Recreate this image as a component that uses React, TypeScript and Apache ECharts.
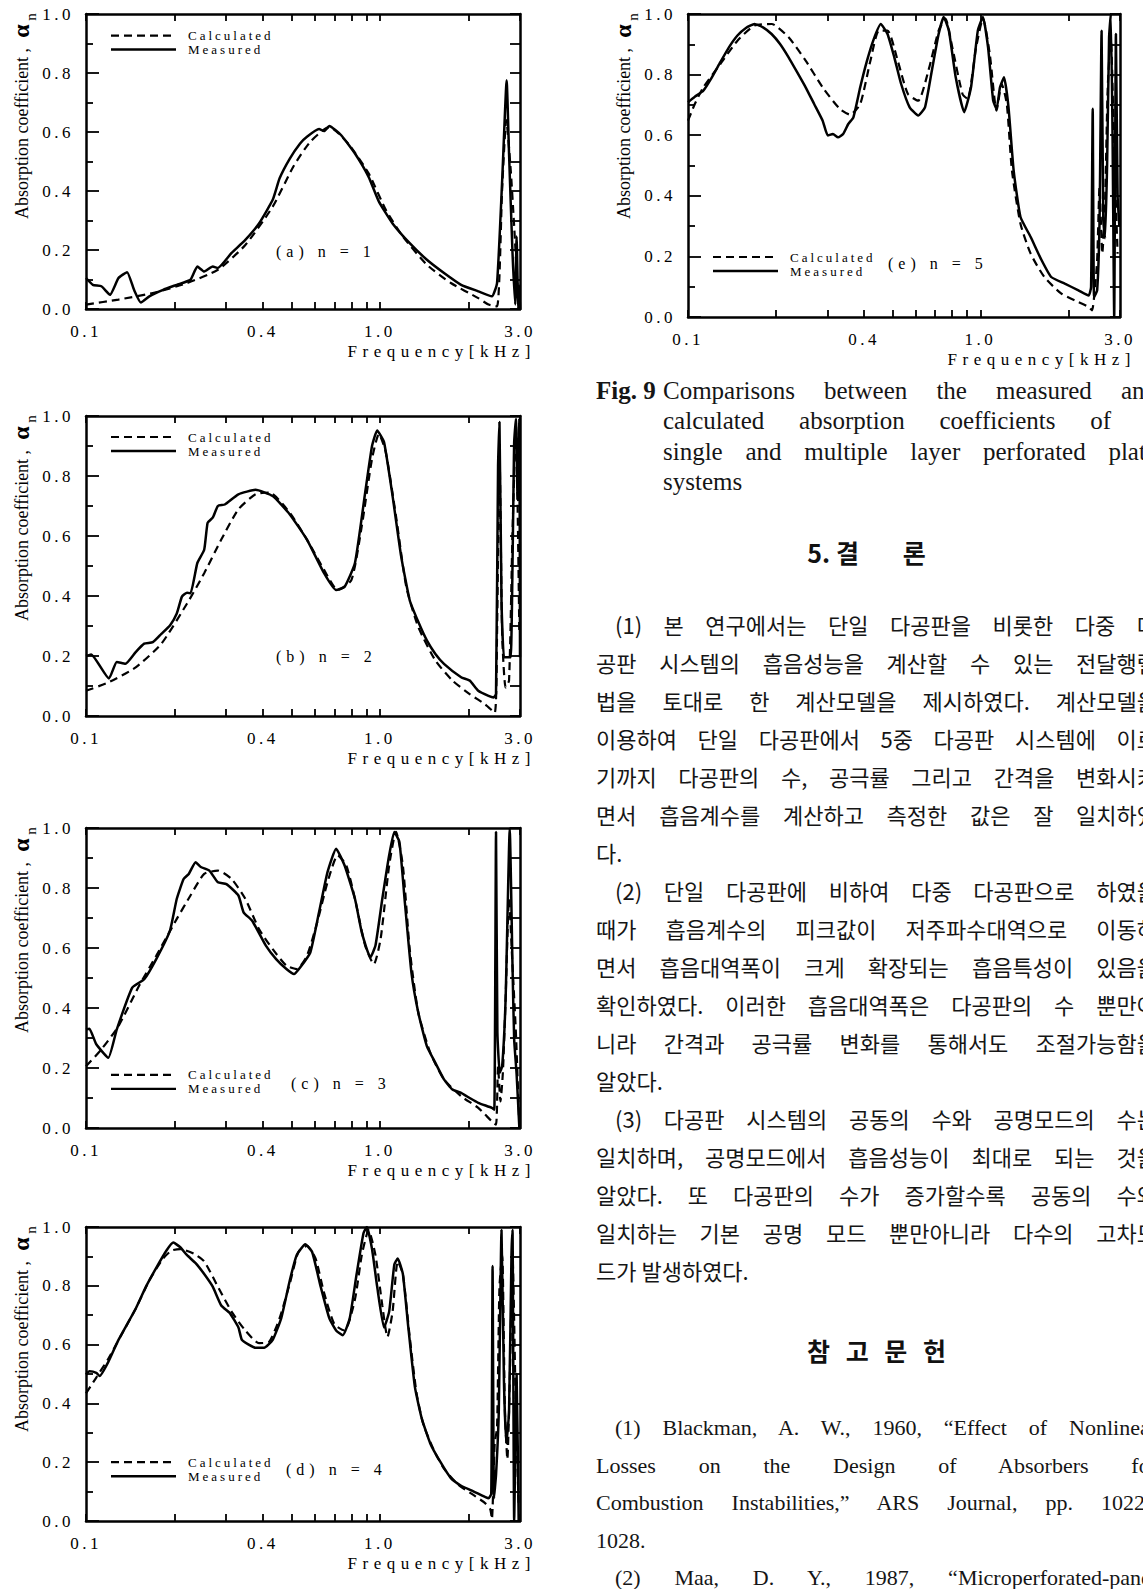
import React, { useEffect, useRef } from "react";
import * as echarts from "echarts";

// ---------------- data ----------------
const X_TICK_VALUES = [0.1, 0.2, 0.3, 0.4, 0.5, 0.6, 0.7, 0.8, 0.9, 1, 2, 3];
const X_LABEL_VALUES = [0.1, 0.4, 1, 3];
const SERIES_NAMES = ["Calculated", "Measured"];
const PANEL_TAGS = ["(a) n = 1", "(b) n = 2", "(c) n = 3", "(d) n = 4", "(e) n = 5"];
const X_AXIS_NAME = "Frequency[kHz]";
const Y_AXIS_NAME = "Absorption coefficient ,";

const calculatedA = [[0.1,0.015],[0.129,0.032],[0.1688,0.054],[0.2208,0.088],[0.2811,0.133],[0.3485,0.217],[0.432,0.347],[0.5075,0.482],[0.58,0.567],[0.673,0.617],[0.78,0.561],[0.916,0.46],[1.048,0.336],[1.198,0.246],[1.446,0.15],[1.745,0.088],[2.163,0.037],[2.344,0.015],[2.506,0.009],[2.609,0.41],[2.695,0.64],[2.79,0.47],[2.866,0.28],[2.944,0.077],[3.0,0]];
const measuredA = [[0.1,0.105],[0.1055,0.082],[0.1128,0.077],[0.1207,0.048],[0.129,0.105],[0.138,0.125],[0.1457,0.065],[0.1537,0.022],[0.1643,0.043],[0.183,0.065],[0.2037,0.082],[0.2268,0.099],[0.2393,0.144],[0.2525,0.127],[0.27,0.144],[0.2811,0.139],[0.313,0.19],[0.3485,0.234],[0.388,0.29],[0.432,0.37],[0.456,0.443],[0.494,0.51],[0.5355,0.561],[0.565,0.584],[0.621,0.61],[0.646,0.603],[0.673,0.62],[0.739,0.589],[0.823,0.527],[0.916,0.448],[0.993,0.364],[1.105,0.29],[1.264,0.223],[1.446,0.167],[1.654,0.122],[1.891,0.082],[2.163,0.06],[2.407,0.043],[2.506,0.088],[2.609,0.437],[2.702,0.775],[2.753,0.527],[2.829,0.19],[2.89,0.015],[2.921,0.246],[2.96,0.0],[2.985,0.08],[3.0,0.0]];

const calculatedB = [[0.1,0.084],[0.1191,0.112],[0.1476,0.162],[0.1805,0.241],[0.2208,0.375],[0.2525,0.476],[0.2887,0.588],[0.3302,0.689],[0.3777,0.739],[0.4205,0.745],[0.494,0.677],[0.5649,0.588],[0.6461,0.487],[0.7194,0.42],[0.8009,0.454],[0.8681,0.633],[0.9408,0.857],[0.993,0.94],[1.048,0.879],[1.1352,0.666],[1.2305,0.431],[1.3517,0.297],[1.5459,0.185],[1.7681,0.118],[2.0222,0.073],[2.2817,0.039],[2.46,0.011],[2.506,0.274],[2.554,0.89],[2.609,0.27],[2.68,0.095],[2.753,0.118],[2.829,0.61],[2.905,0.97],[2.985,0.27]];
const measuredB = [[0.1,0.2],[0.1041,0.205],[0.1197,0.125],[0.1273,0.18],[0.1362,0.174],[0.1476,0.213],[0.1578,0.241],[0.1688,0.246],[0.1805,0.274],[0.1931,0.302],[0.2037,0.342],[0.2121,0.398],[0.2208,0.411],[0.2268,0.409],[0.2393,0.51],[0.2525,0.554],[0.2594,0.644],[0.27,0.661],[0.2811,0.7],[0.2967,0.705],[0.3302,0.739],[0.3777,0.754],[0.432,0.733],[0.494,0.672],[0.5649,0.588],[0.6461,0.476],[0.7099,0.42],[0.7589,0.431],[0.823,0.51],[0.8917,0.745],[0.9408,0.9],[0.9795,0.952],[1.0335,0.913],[1.1053,0.733],[1.182,0.532],[1.264,0.386],[1.3517,0.314],[1.4457,0.252],[1.5459,0.207],[1.6535,0.174],[1.891,0.129],[2.0222,0.118],[2.1627,0.084],[2.344,0.067],[2.44,0.062],[2.486,0.073],[2.526,0.834],[2.554,0.98],[2.595,0.386],[2.645,0.196],[2.717,0.196],[2.79,0.196],[2.866,0.913],[2.905,0.99],[2.944,0.72],[2.985,0.99],[3.0,0.196]];

const calculatedC = [[0.1,0.206],[0.1128,0.262],[0.129,0.34],[0.1516,0.474],[0.1734,0.574],[0.2037,0.697],[0.2268,0.775],[0.2525,0.847],[0.2811,0.858],[0.313,0.83],[0.3485,0.764],[0.388,0.663],[0.432,0.596],[0.481,0.541],[0.5212,0.53],[0.5649,0.574],[0.6124,0.686],[0.6637,0.819],[0.7194,0.909],[0.7692,0.875],[0.823,0.764],[0.8917,0.608],[0.9537,0.546],[1.0062,0.63],[1.076,0.875],[1.1352,0.987],[1.198,0.875],[1.264,0.596],[1.3517,0.385],[1.4849,0.251],[1.6535,0.162],[1.891,0.106],[2.1627,0.067],[2.407,0.022],[2.486,0.011],[2.526,0.206],[2.574,0.089],[2.623,0.184],[2.68,0.43],[2.753,0.764],[2.829,0.54],[2.905,0.318],[2.985,0]];
const measuredC = [[0.1,0.329],[0.1027,0.331],[0.1084,0.279],[0.1191,0.234],[0.1273,0.329],[0.1437,0.468],[0.1578,0.496],[0.1734,0.563],[0.1931,0.658],[0.2037,0.764],[0.2149,0.83],[0.2238,0.847],[0.2361,0.886],[0.2459,0.87],[0.2629,0.858],[0.2811,0.819],[0.3006,0.813],[0.3302,0.775],[0.3438,0.719],[0.3677,0.691],[0.4094,0.608],[0.4437,0.563],[0.481,0.53],[0.5103,0.513],[0.5355,0.535],[0.58,0.585],[0.621,0.719],[0.6637,0.853],[0.7099,0.931],[0.7589,0.875],[0.823,0.764],[0.8681,0.652],[0.9284,0.569],[0.9665,0.608],[1.0198,0.764],[1.076,0.909],[1.1202,0.987],[1.1663,0.953],[1.2139,0.764],[1.2811,0.518],[1.3517,0.385],[1.4457,0.273],[1.5459,0.217],[1.6535,0.162],[1.7681,0.128],[1.891,0.117],[2.0222,0.1],[2.1627,0.084],[2.407,0.067],[2.453,0.061],[2.486,0.987],[2.513,0.318],[2.56,0.184],[2.609,0.206],[2.68,0.43],[2.768,0.998],[2.829,0.54],[2.866,0.295],[2.921,0.18],[2.985,0]];

const calculatedD = [[0.1,0.434],[0.1084,0.488],[0.1191,0.552],[0.1326,0.637],[0.1476,0.722],[0.1643,0.819],[0.183,0.893],[0.1957,0.92],[0.2093,0.925],[0.2329,0.909],[0.2525,0.883],[0.2811,0.797],[0.313,0.712],[0.3485,0.648],[0.388,0.605],[0.4205,0.61],[0.456,0.69],[0.494,0.808],[0.5283,0.915],[0.5649,0.936],[0.6042,0.893],[0.6461,0.776],[0.7004,0.669],[0.7589,0.648],[0.823,0.754],[0.8681,0.904],[0.916,0.989],[0.9665,0.904],[1.0198,0.733],[1.0617,0.626],[1.1053,0.712],[1.1508,0.883],[1.198,0.84],[1.264,0.626],[1.334,0.434],[1.4075,0.328],[1.5254,0.242],[1.6535,0.178],[1.8408,0.125],[2.0495,0.093],[2.2817,0.061],[2.376,0.04],[2.407,0.007],[2.46,0.264],[2.506,0.317],[2.554,0.797],[2.609,0.904],[2.666,0.37],[2.717,0.21],[2.768,0.477],[2.829,0.904],[2.905,0.37],[2.969,0.05]];
const measuredD = [[0.1,0.498],[0.1027,0.509],[0.1084,0.504],[0.1113,0.493],[0.1191,0.541],[0.129,0.616],[0.1476,0.722],[0.16,0.797],[0.1734,0.861],[0.1879,0.92],[0.1983,0.947],[0.2093,0.931],[0.2208,0.904],[0.2361,0.877],[0.2525,0.84],[0.27,0.797],[0.2887,0.733],[0.3088,0.707],[0.3302,0.658],[0.3392,0.616],[0.3579,0.6],[0.3777,0.589],[0.4039,0.589],[0.432,0.616],[0.4619,0.69],[0.494,0.819],[0.5212,0.904],[0.5575,0.941],[0.5884,0.915],[0.6291,0.797],[0.673,0.69],[0.7099,0.648],[0.7487,0.632],[0.7902,0.69],[0.8338,0.84],[0.8798,0.979],[0.9036,1.0],[0.9408,0.925],[0.9795,0.797],[1.0335,0.658],[1.076,0.712],[1.1202,0.872],[1.1508,0.893],[1.198,0.84],[1.2471,0.669],[1.3163,0.456],[1.3889,0.349],[1.4849,0.264],[1.6095,0.2],[1.745,0.146],[1.891,0.12],[2.0495,0.104],[2.1627,0.093],[2.2817,0.082],[2.344,0.077],[2.395,0.093],[2.42,0.867],[2.446,0.077],[2.486,0.157],[2.54,0.37],[2.595,0.99],[2.645,0.477],[2.695,0.264],[2.753,0.37],[2.806,0.904],[2.829,0.99],[2.866,0.0],[2.921,0.5],[2.969,0.0]];

const calculatedE = [[0.1,0.648],[0.1055,0.703],[0.1128,0.758],[0.129,0.835],[0.1476,0.912],[0.1688,0.962],[0.1931,0.967],[0.2208,0.923],[0.2525,0.846],[0.2887,0.758],[0.3302,0.687],[0.3579,0.668],[0.388,0.703],[0.4205,0.846],[0.4497,0.945],[0.481,0.945],[0.5212,0.846],[0.5649,0.736],[0.6124,0.714],[0.6637,0.813],[0.7194,0.945],[0.7589,0.985],[0.8009,0.89],[0.8681,0.736],[0.9036,0.72],[0.9665,0.89],[1.0198,0.985],[1.076,0.868],[1.1352,0.681],[1.182,0.769],[1.2305,0.703],[1.2811,0.484],[1.3704,0.308],[1.4849,0.209],[1.6535,0.132],[1.891,0.077],[2.1627,0.049],[2.344,0.033],[2.407,0.022],[2.453,0.077],[2.506,0.187],[2.554,0.429],[2.609,0.209],[2.666,0.374],[2.724,0.758],[2.79,0.923],[2.866,0.538],[2.944,0.209]];
const measuredE = [[0.1,0.709],[0.1055,0.727],[0.1128,0.747],[0.1207,0.791],[0.129,0.841],[0.138,0.89],[0.1476,0.929],[0.1578,0.954],[0.1688,0.967],[0.1805,0.956],[0.1931,0.934],[0.2064,0.901],[0.2208,0.857],[0.2361,0.808],[0.2525,0.758],[0.27,0.703],[0.2887,0.648],[0.3006,0.599],[0.313,0.604],[0.3258,0.593],[0.3392,0.604],[0.3532,0.637],[0.3677,0.659],[0.388,0.758],[0.4094,0.846],[0.432,0.918],[0.456,0.967],[0.481,0.934],[0.5075,0.857],[0.5355,0.769],[0.5727,0.692],[0.6124,0.665],[0.6461,0.692],[0.6819,0.813],[0.7194,0.934],[0.7487,0.99],[0.78,0.945],[0.823,0.791],[0.8798,0.676],[0.9284,0.758],[0.9795,0.945],[1.0198,0.99],[1.0617,0.89],[1.1053,0.714],[1.1352,0.687],[1.1663,0.758],[1.2041,0.791],[1.2471,0.692],[1.2985,0.484],[1.3704,0.33],[1.4849,0.264],[1.6095,0.192],[1.745,0.132],[1.9425,0.11],[2.1627,0.088],[2.344,0.071],[2.389,0.099],[2.42,0.687],[2.446,0.066],[2.506,0.088],[2.554,0.32],[2.595,0.945],[2.63,0.32],[2.666,0.26],[2.71,0.5],[2.753,0.923],[2.79,1.0],[2.829,0.6],[2.866,0.0],[2.905,0.934],[2.944,0.4],[2.985,0.3]];

const CALCULATED = [calculatedA, calculatedB, calculatedC, calculatedD, calculatedE];
const MEASURED = [measuredA, measuredB, measuredC, measuredD, measuredE];

// ---------------- page text ----------------
const CAPTION_LABEL = "Fig. 9";
const CAPTION_LINES = [
  "Comparisons between the measured and",
  "calculated absorption coefficients of a",
  "single and multiple layer perforated plate",
  "systems",
];
const HEADING_CONCLUSION = ["5.", "결", "론"];
const KOREAN_LINES = [
  "(1) 본 연구에서는 단일 다공판을 비롯한 다중 다",
  "공판 시스템의 흡음성능을 계산할 수 있는 전달행렬",
  "법을 토대로 한 계산모델을 제시하였다. 계산모델을",
  "이용하여 단일 다공판에서 5중 다공판 시스템에 이르",
  "기까지 다공판의 수, 공극률 그리고 간격을 변화시키",
  "면서 흡음계수를 계산하고 측정한 값은 잘 일치하였",
  "다.",
  "(2) 단일 다공판에 비하여 다중 다공판으로 하였을",
  "때가 흡음계수의 피크값이 저주파수대역으로 이동하",
  "면서 흡음대역폭이 크게 확장되는 흡음특성이 있음을",
  "확인하였다. 이러한 흡음대역폭은 다공판의 수 뿐만아",
  "니라 간격과 공극률 변화를 통해서도 조절가능함을",
  "알았다.",
  "(3) 다공판 시스템의 공동의 수와 공명모드의 수는",
  "일치하며, 공명모드에서 흡음성능이 최대로 되는 것을",
  "알았다. 또 다공판의 수가 증가할수록 공동의 수와",
  "일치하는 기본 공명 모드 뿐만아니라 다수의 고차모",
  "드가 발생하였다.",
];
const KOREAN_PARA_START = [0, 7, 13];
const KOREAN_PARA_END = [6, 12, 17];
const HEADING_REFERENCES = "참 고 문 헌";
const REF_LINES = [
  "(1) Blackman, A. W., 1960, “Effect of Nonlinear",
  "Losses on the Design of Absorbers for",
  "Combustion Instabilities,” ARS Journal, pp. 1022~",
  "1028.",
  "(2) Maa, D. Y., 1987, “Microperforated-panel",
];
const REF_START = [0, 4];
const REF_END = [3];

// ---------------- layout ----------------
const SERIF = '"Liberation Serif", "Times New Roman", serif';
const KR = '"Noto Sans CJK KR", "Noto Sans", sans-serif';

const PANELS = [
  { left: 86, top: 14, width: 434, height: 295, legendAt: 0.927, tagAt: 0.196, tagDx: 190 },
  { left: 86, top: 416, width: 434, height: 300, legendAt: 0.93, tagAt: 0.197, tagDx: 190 },
  { left: 86, top: 828, width: 434, height: 300, legendAt: 0.177, tagAt: 0.15, tagDx: 205 },
  { left: 86, top: 1227, width: 434, height: 294, legendAt: 0.2, tagAt: 0.175, tagDx: 200 },
  { left: 688, top: 14, width: 432, height: 303, legendAt: 0.198, tagAt: 0.178, tagDx: 200 },
];

function buildOption() {
  const grid: any[] = [];
  const xAxis: any[] = [];
  const yAxis: any[] = [];
  const series: any[] = [];
  const elements: any[] = [];
  const frame = { show: true, onZero: false, lineStyle: { color: "#000", width: 2.5 } };
  const tickLine = { color: "#000", width: 1.8 };

  PANELS.forEach((p, i) => {
    grid.push({ left: p.left, top: p.top, width: p.width, height: p.height });
    const xBase = {
      type: "log",
      logBase: 10,
      gridIndex: i,
      min: 0.1,
      max: 3,
      splitLine: { show: false },
      minorTick: { show: false },
      axisLine: frame,
      axisTick: { show: true, inside: true, length: 7, customValues: X_TICK_VALUES, lineStyle: tickLine },
    };
    xAxis.push({
      ...xBase,
      position: "bottom",
      axisLabel: {
        show: true,
        customValues: X_LABEL_VALUES,
        formatter: (v: number) => Number(v).toFixed(1),
        margin: 14,
        color: "#000",
        fontFamily: SERIF,
        fontSize: 17,
      },
    });
    xAxis.push({ ...xBase, position: "top", axisLabel: { show: false } });
    yAxis.push({
      type: "value",
      gridIndex: i,
      min: 0,
      max: 1,
      interval: 0.2,
      position: "left",
      splitLine: { show: false },
      axisLine: frame,
      axisTick: { show: true, inside: true, length: 13, lineStyle: tickLine },
      minorTick: { show: true, splitNumber: 2, length: 7, lineStyle: tickLine },
      axisLabel: {
        formatter: (v: number) => Number(v).toFixed(1),
        margin: 12,
        color: "#000",
        fontFamily: SERIF,
        fontSize: 17,
      },
    });
    yAxis.push({
      type: "value",
      gridIndex: i,
      min: 0,
      max: 1,
      interval: 0.1,
      position: "right",
      splitLine: { show: false },
      axisLine: frame,
      axisTick: { show: true, inside: true, length: 10, lineStyle: tickLine },
      axisLabel: { show: false },
    });
    series.push({
      name: SERIES_NAMES[0],
      type: "line",
      xAxisIndex: 2 * i,
      yAxisIndex: 2 * i,
      data: CALCULATED[i],
      symbol: "none",
      smooth: 0.2,
      lineStyle: { color: "#000", width: 2.2, type: [8, 5] },
      z: 2,
    });
    series.push({
      name: SERIES_NAMES[1],
      type: "line",
      xAxisIndex: 2 * i,
      yAxisIndex: 2 * i,
      data: MEASURED[i],
      symbol: "none",
      smooth: 0.15,
      lineStyle: { color: "#000", width: 2.5, type: "solid" },
      z: 3,
    });

    // legend (drawn)
    const ly = p.top + (1 - p.legendAt) * p.height;
    const lx1 = p.left + 25;
    const lx2 = p.left + 90;
    elements.push({
      type: "line",
      z: 100,
      shape: { x1: lx1, y1: ly, x2: lx2, y2: ly },
      style: { stroke: "#000", lineWidth: 2.2, lineDash: [8, 5] },
    });
    elements.push({
      type: "line",
      z: 100,
      shape: { x1: lx1, y1: ly + 14, x2: lx2, y2: ly + 14 },
      style: { stroke: "#000", lineWidth: 2.4 },
    });
    elements.push({
      type: "text",
      z: 100,
      x: p.left + 102,
      y: ly,
      style: { text: SERIES_NAMES[0], fill: "#000", fontFamily: SERIF, fontSize: 13, align: "left", verticalAlign: "middle" },
    });
    elements.push({
      type: "text",
      z: 100,
      x: p.left + 102,
      y: ly + 14,
      style: { text: SERIES_NAMES[1], fill: "#000", fontFamily: SERIF, fontSize: 13, align: "left", verticalAlign: "middle" },
    });
    // panel tag
    elements.push({
      type: "text",
      z: 100,
      x: p.left + p.tagDx,
      y: p.top + (1 - p.tagAt) * p.height,
      style: { text: PANEL_TAGS[i], fill: "#000", fontFamily: SERIF, fontSize: 16, align: "left", verticalAlign: "middle" },
    });
    // x axis name
    elements.push({
      type: "text",
      z: 100,
      x: p.left + p.width + 16,
      y: p.top + p.height + 42,
      style: { text: X_AXIS_NAME, fill: "#000", fontFamily: SERIF, fontSize: 17, align: "right", verticalAlign: "middle" },
    });
    // y axis name (rotated)
    const tx = p.left - 64;
    elements.push({
      type: "text",
      z: 100,
      x: tx,
      y: p.top + 205,
      rotation: Math.PI / 2,
      style: { text: Y_AXIS_NAME, fill: "#000", fontFamily: SERIF, fontSize: 18, align: "left", verticalAlign: "middle" },
    });
    elements.push({
      type: "text",
      z: 100,
      x: tx - 1,
      y: p.top + 17,
      rotation: Math.PI / 2,
      style: { text: "α", fill: "#000", fontFamily: SERIF, fontSize: 24, fontWeight: "bold", align: "center", verticalAlign: "middle" },
    });
    elements.push({
      type: "text",
      z: 100,
      x: tx + 9,
      y: p.top + 3,
      rotation: Math.PI / 2,
      style: { text: "n", fill: "#000", fontFamily: SERIF, fontSize: 15, align: "center", verticalAlign: "middle" },
    });
  });

  return {
    animation: false,
    backgroundColor: "#fff",
    grid,
    xAxis,
    yAxis,
    series,
    graphic: { elements },
  };
}

function applySpacing(root: HTMLElement) {
  root.querySelectorAll("svg text").forEach((t) => {
    const s = (t.textContent || "").trim();
    let ls = 0;
    if (/^\d\.\d$/.test(s)) ls = 3.5;
    else if (s === X_AXIS_NAME) ls = 5.5;
    else if (s === SERIES_NAMES[0] || s === SERIES_NAMES[1]) ls = 3;
    else if (PANEL_TAGS.indexOf(s) >= 0) ls = 5;
    if (ls) t.setAttribute("letter-spacing", ls + "px");
  });
}

type LineProps = {
  text: string;
  left: number;
  width: number;
  cy: number;
  size: number;
  lh: number;
  family: string;
  justify: boolean;
  weight?: number;
};

function TextLine({ text, left, width, cy, size, lh, family, justify, weight }: LineProps) {
  return (
    <div
      style={{
        position: "absolute",
        left,
        top: cy - lh / 2,
        width,
        height: lh,
        lineHeight: lh + "px",
        fontSize: size,
        fontFamily: family,
        fontWeight: weight || 400,
        color: "#151515",
        textAlign: justify ? "justify" : "left",
        textAlignLast: justify ? "justify" : "left",
        overflow: "hidden",
      } as any}
    >
      {text}
    </div>
  );
}

const COL_LEFT = 596;
const COL_RIGHT = 1157;
const INDENT = 19;

export default function App() {
  const ref = useRef<HTMLDivElement>(null);
  useEffect(() => {
    const el = ref.current as HTMLDivElement;
    const chart = echarts.init(el, null, { renderer: "svg", width: 1143, height: 1589 });
    chart.setOption(buildOption() as any);
    applySpacing(el);
    const onFinished = () => applySpacing(el);
    chart.on("finished", onFinished);
    return () => {
      chart.off("finished", onFinished);
      chart.dispose();
    };
  }, []);

  const capCx = 663;
  const capW = COL_RIGHT - capCx;
  const capY = [391, 421, 452, 482];
  const krY0 = 624;
  const krStep = 38;
  const refY0 = 1428;
  const refStep = 37.5;

  return (
    <div
      style={{
        position: "absolute",
        left: 0,
        top: 0,
        width: 1143,
        height: 1589,
        overflow: "hidden",
        background: "#fff",
      }}
    >
      <div ref={ref} style={{ position: "absolute", left: 0, top: 0, width: 1143, height: 1589 }} />

      {/* caption */}
      <TextLine text={CAPTION_LABEL} left={COL_LEFT} width={70} cy={capY[0]} size={25} lh={30} family={SERIF} justify={false} weight={700} />
      {CAPTION_LINES.map((t, i) => (
        <TextLine key={"c" + i} text={t} left={capCx} width={capW} cy={capY[i]} size={25} lh={30} family={SERIF} justify={i < CAPTION_LINES.length - 1} />
      ))}

      {/* heading 5. 결론 */}
      <div
        style={{
          position: "absolute",
          left: COL_LEFT - 10,
          width: COL_RIGHT - COL_LEFT,
          top: 552 - 18,
          height: 36,
          lineHeight: "36px",
          textAlign: "center",
          fontFamily: KR,
          fontWeight: 700,
          fontSize: 25,
          color: "#111",
        }}
      >
        {HEADING_CONCLUSION[0]} {HEADING_CONCLUSION[1]}
        <span style={{ marginLeft: 38 }}> {HEADING_CONCLUSION[2]}</span>
      </div>

      {/* Korean body */}
      {KOREAN_LINES.map((t, i) => {
        const start = KOREAN_PARA_START.indexOf(i) >= 0;
        const end = KOREAN_PARA_END.indexOf(i) >= 0;
        const left = start ? COL_LEFT + INDENT : COL_LEFT;
        return (
          <TextLine key={"k" + i} text={t} left={left} width={COL_RIGHT - left} cy={krY0 + i * krStep} size={22} lh={36} family={KR} justify={!end} />
        );
      })}

      {/* heading references */}
      <div
        style={{
          position: "absolute",
          left: COL_LEFT,
          width: COL_RIGHT - COL_LEFT,
          top: 1350 - 18,
          height: 36,
          lineHeight: "36px",
          textAlign: "center",
          fontFamily: KR,
          fontWeight: 700,
          fontSize: 25,
          wordSpacing: 10,
          color: "#111",
        }}
      >
        {HEADING_REFERENCES}
      </div>

      {REF_LINES.map((t, i) => {
        const start = REF_START.indexOf(i) >= 0;
        const end = REF_END.indexOf(i) >= 0;
        const left = start ? COL_LEFT + INDENT : COL_LEFT;
        return (
          <TextLine key={"r" + i} text={t} left={left} width={COL_RIGHT - left} cy={refY0 + i * refStep} size={22} lh={34} family={SERIF} justify={!end} />
        );
      })}
    </div>
  );
}
